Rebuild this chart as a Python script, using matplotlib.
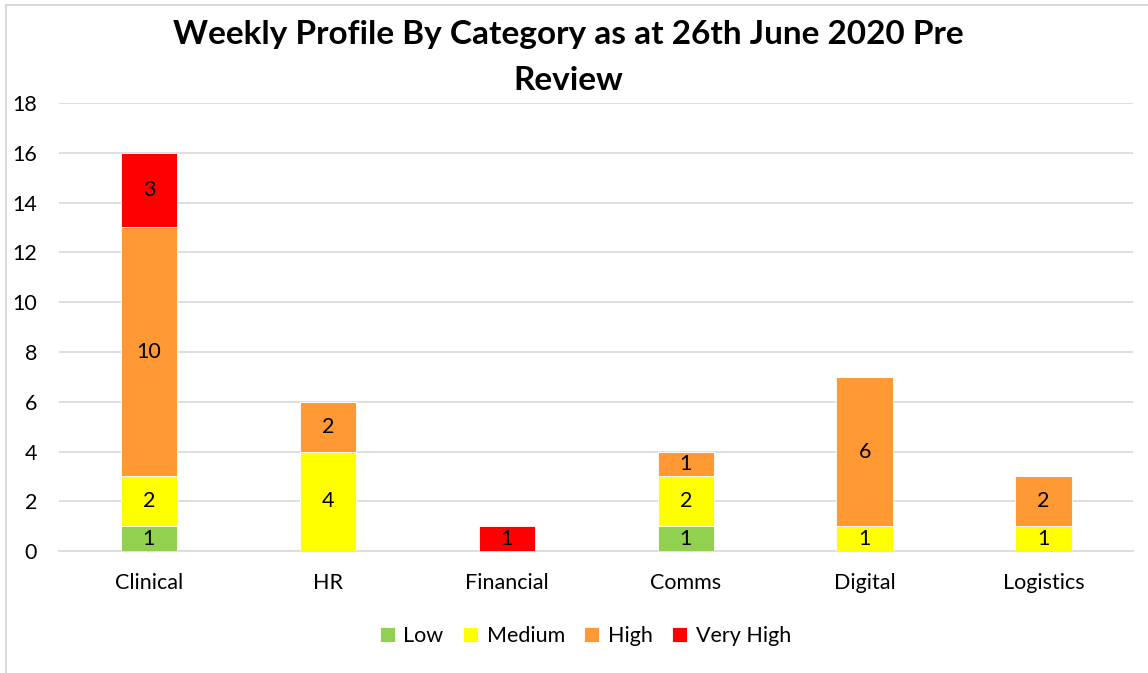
import matplotlib.pyplot as plt
import numpy as np
from matplotlib.lines import Line2D

plt.rcParams['font.family'] = ['Lato', 'DejaVu Sans']

categories = ['Clinical', 'HR', 'Financial', 'Comms', 'Digital', 'Logistics']
levels = ['Low', 'Medium', 'High', 'Very High']
low = [1, 0, 0, 1, 0, 0]
medium = [2, 4, 0, 2, 1, 1]
high = [10, 2, 0, 1, 6, 2]
very_high = [3, 0, 1, 0, 0, 0]
colors = ['#92D050', '#FFFF00', '#FF9933', '#FF0000']

fig = plt.figure(figsize=(11.48, 6.73), dpi=100)
ax = fig.add_axes([0.0518, 0.181, 0.9352, 0.666])

x = np.arange(len(categories))
bottom = np.zeros(len(categories))
for name, vals, col in zip(levels, [low, medium, high, very_high], colors):
    vals = np.array(vals, dtype=float)
    bars = ax.bar(x, vals, 0.315, bottom=bottom, color=col, label=name,
                  edgecolor='white', linewidth=0.6, zorder=3)
    for b, v, b0 in zip(bars, vals, bottom):
        if v > 0:
            ax.text(b.get_x() + b.get_width() / 2, b0 + v / 2, f'{int(v)}',
                    ha='center', va='center', fontsize=15.5, color='black', zorder=4)
    bottom += vals

ax.set_xlim(-0.5, len(categories) - 0.5)
ax.set_ylim(0, 18)
ax.set_yticks(range(0, 19, 2))
ax.yaxis.grid(True, color='#D9D9D9', linewidth=1.2, zorder=0)
ax.set_axisbelow(True)
for s in ['top', 'right', 'left']:
    ax.spines[s].set_visible(False)
ax.spines['bottom'].set_color('#D9D9D9')
ax.spines['bottom'].set_linewidth(1.2)
ax.tick_params(axis='both', length=0, labelsize=15.5)
ax.tick_params(axis='x', pad=16)
ax.tick_params(axis='y', pad=16)
ax.set_xticks(x)
ax.set_xticklabels(categories)

fig.text(0.495, 0.948, 'Weekly Profile By Category as at 26th June 2020 Pre',
         ha='center', va='center', fontsize=24, fontweight='bold')
fig.text(0.495, 0.881, 'Review', ha='center', va='center',
         fontsize=24, fontweight='bold')

ax.legend(loc='center', bbox_to_anchor=(0.51, 0.055), bbox_transform=fig.transFigure,
          ncol=4, frameon=False, fontsize=15.5, handlelength=0.7, handleheight=0.7,
          handletextpad=0.4, columnspacing=0.9)

# chart border (left and top edges visible)
fig.add_artist(Line2D([0.0055, 0.0055], [0, 0.993], color='#D9D9D9', linewidth=1.5))
fig.add_artist(Line2D([0.0055, 1.0], [0.993, 0.993], color='#D9D9D9', linewidth=1.5))

fig.savefig('out.png', dpi=100)
